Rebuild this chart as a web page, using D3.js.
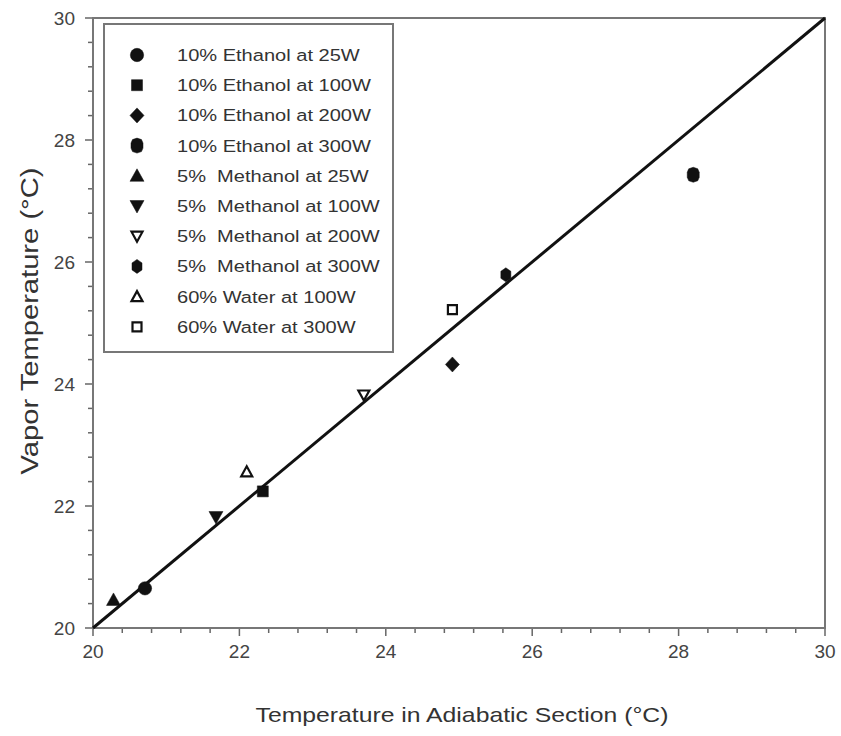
<!DOCTYPE html>
<html>
<head>
<meta charset="utf-8">
<script src="https://cdn.jsdelivr.net/npm/d3@7"></script>
<style>
  body { margin: 0; background: #fff; }
  text { font-family: "Liberation Sans", Arial, sans-serif; }
</style>
</head>
<body>
<div id="chart"></div>
<script>
// ---- data ----
const seriesNames = [
  "10% Ethanol at 25W", "10% Ethanol at 100W", "10% Ethanol at 200W", "10% Ethanol at 300W",
  "5%  Methanol at 25W", "5%  Methanol at 100W", "5%  Methanol at 200W", "5%  Methanol at 300W",
  "60% Water at 100W", "60% Water at 300W"
];
const adiabaticTemp = [20.71, 22.32, 24.91, 28.20, 20.28, 21.68, 23.70, 25.64, 22.10, 24.91];
const vaporTemp     = [20.65, 22.24, 24.32, 27.43, 20.46, 21.82, 23.82, 25.79, 22.56, 25.22];
const markerKinds   = ["circle", "square", "diamond", "tallhex", "triUp", "triDown", "triDownOpen", "smallhex", "triUpOpen", "squareOpen"];
const diagonal = [20, 30];
const majorTicks = [20, 22, 24, 26, 28, 30];

const width = 841, height = 736;
const margin = { left: 93, right: 16, top: 18, bottom: 108 };

const svg = d3.select("#chart").append("svg")
  .attr("width", width).attr("height", height);

const x = d3.scaleLinear().domain([20, 30]).range([margin.left, width - margin.right]);
const y = d3.scaleLinear().domain([20, 30]).range([height - margin.bottom, margin.top]);

// marker shapes, drawn around 0,0
function markerPath(kind) {
  switch (kind) {
    case "circle": return d3.symbol(d3.symbolCircle, 140)();
    case "square": case "squareOpen": return kind === "square" ? "M-5.5,-5.5H5.5V5.5H-5.5Z" : "M-4.5,-4.5H4.5V4.5H-4.5Z";
    case "diamond": return "M0,-7.5L7,0L0,7.5L-7,0Z";
    case "tallhex": return "M0,-7.5L4.5,-6L6,-2.5L6,2.5L4.5,6L0,7.5L-4.5,6L-6,2.5L-6,-2.5L-4.5,-6Z";
    case "smallhex": return "M0,-7L5,-3.5L5,3.5L0,7L-5,3.5L-5,-3.5Z";
    case "triUp": return "M0,-7L7,5.5L-7,5.5Z";
    case "triDown": return "M0,7L7,-5.5L-7,-5.5Z";
    case "triUpOpen": return "M0,-5.5L5.5,4.5L-5.5,4.5Z";
    case "triDownOpen": return "M0,5.5L5.5,-4.5L-5.5,-4.5Z";
  }
}
const isOpen = k => k.endsWith("Open");

// ---- axes ----
const minorTicks = d3.range(0, 26).map(i => 20 + i * 0.4);

const xAxis = svg.append("g").attr("transform", `translate(0,${y(20)})`);
xAxis.selectAll("line.minor").data(minorTicks).enter().append("line")
  .attr("x1", d => x(d)).attr("x2", d => x(d))
  .attr("y1", 0).attr("y2", d => majorTicks.some(m => Math.abs(m - d) < 1e-6) ? 8 : 5)
  .attr("stroke", "#666").attr("stroke-width", 1.5);
xAxis.selectAll("text").data(majorTicks).enter().append("text")
  .attr("x", d => x(d)).attr("y", 30)
  .attr("text-anchor", "middle").attr("font-size", 19).attr("fill", "#444")
  .text(d => d);

const yAxis = svg.append("g").attr("transform", `translate(${x(20)},0)`);
yAxis.selectAll("line").data(minorTicks).enter().append("line")
  .attr("y1", d => y(d)).attr("y2", d => y(d))
  .attr("x1", 0).attr("x2", d => majorTicks.some(m => Math.abs(m - d) < 1e-6) ? -8 : -5)
  .attr("stroke", "#666").attr("stroke-width", 1.5);
yAxis.selectAll("text").data(majorTicks).enter().append("text")
  .attr("x", -18).attr("y", d => y(d) + 7)
  .attr("text-anchor", "end").attr("font-size", 19).attr("fill", "#444")
  .text(d => d);

// frame
svg.append("rect")
  .attr("x", x(20)).attr("y", y(30))
  .attr("width", x(30) - x(20)).attr("height", y(20) - y(30))
  .attr("fill", "none").attr("stroke", "#777").attr("stroke-width", 2);

// axis titles
svg.append("text")
  .attr("x", (x(20) + x(30)) / 2 + 3).attr("y", 722)
  .attr("text-anchor", "middle").attr("font-size", 21).attr("fill", "#333")
  .attr("textLength", 413).attr("lengthAdjust", "spacingAndGlyphs")
  .text("Temperature in Adiabatic Section (°C)");

svg.append("text")
  .attr("transform", "translate(38,321) rotate(-90)")
  .attr("text-anchor", "middle").attr("font-size", 23).attr("fill", "#333")
  .attr("textLength", 307).attr("lengthAdjust", "spacingAndGlyphs")
  .text("Vapor Temperature (°C)");

// 1:1 line
svg.append("line")
  .attr("x1", x(diagonal[0])).attr("y1", y(diagonal[0]))
  .attr("x2", x(diagonal[1])).attr("y2", y(diagonal[1]))
  .attr("stroke", "#111").attr("stroke-width", 3);

// points
svg.append("g").selectAll("path").data(seriesNames).enter().append("path")
  .attr("d", (d, i) => markerPath(markerKinds[i]))
  .attr("transform", (d, i) => `translate(${x(adiabaticTemp[i])},${y(vaporTemp[i])})`)
  .attr("fill", (d, i) => isOpen(markerKinds[i]) ? "#fff" : "#111")
  .attr("stroke", "#111")
  .attr("stroke-width", (d, i) => isOpen(markerKinds[i]) ? 2.2 : 0.5);

// legend
const legend = svg.append("g");
legend.append("rect")
  .attr("x", 104).attr("y", 24).attr("width", 289).attr("height", 328)
  .attr("fill", "#fff").attr("stroke", "#777").attr("stroke-width", 2);

const rowY = i => 55 + i * 30.2;
const rows = legend.selectAll("g.row").data(seriesNames).enter().append("g")
  .attr("transform", (d, i) => `translate(0,${rowY(i)})`);
rows.append("path")
  .attr("d", (d, i) => markerPath(markerKinds[i]))
  .attr("transform", "translate(137,0)")
  .attr("fill", (d, i) => isOpen(markerKinds[i]) ? "#fff" : "#111")
  .attr("stroke", "#111")
  .attr("stroke-width", (d, i) => isOpen(markerKinds[i]) ? 2.2 : 0.5);
rows.append("text")
  .attr("transform", "translate(177,6) scale(1.18,1)")
  .attr("font-size", 17).attr("fill", "#333")
  .style("white-space", "pre")
  .text(d => d);
</script>
</body>
</html>
